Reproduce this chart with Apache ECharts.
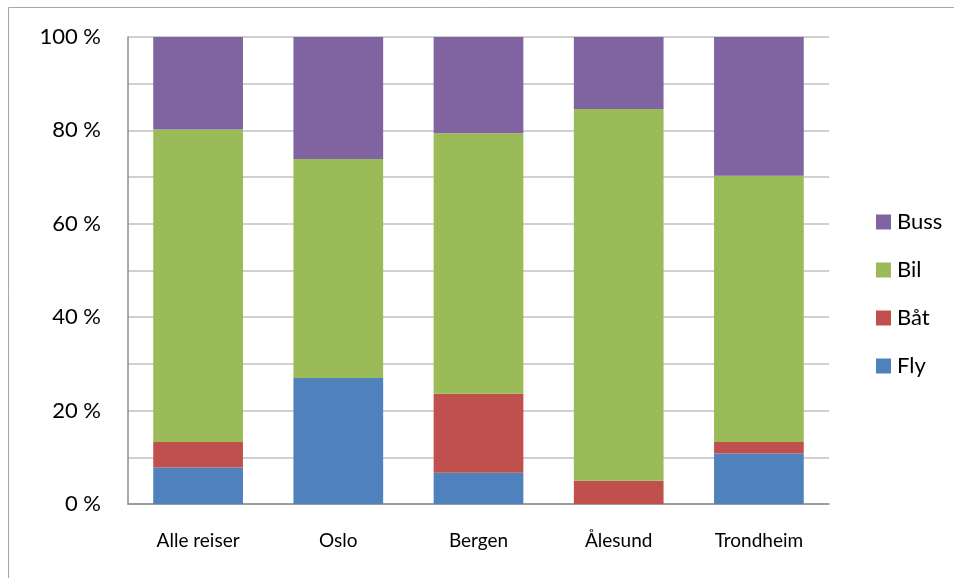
<!DOCTYPE html>
<html>
<head>
<meta charset="utf-8">
<script src="https://cdn.jsdelivr.net/npm/echarts@6/dist/echarts.min.js"></script>
<style>
  html, body { margin: 0; padding: 0; background: #fff; }
  #chart { width: 954px; height: 578px; }
</style>
</head>
<body>
<div id="chart"></div>
<script>
// Reisemiddel per reisemål, andel i prosent
const categories = ['Alle reiser', 'Oslo', 'Bergen', 'Ålesund', 'Trondheim'];
const fly  = [7.8, 27.0, 6.7, 0.0, 10.8];
const baat = [5.5, 0.0, 16.9, 5.0, 2.5];
const bil  = [66.9, 46.9, 55.8, 79.6, 57.0];
const buss = [19.8, 26.1, 20.6, 15.4, 29.7];
const yTicks = [0, 20, 40, 60, 80, 100];

const fontFamily = 'Lato, "Open Sans", sans-serif';

const chart = echarts.init(document.getElementById('chart'));

function barSeries(name, data, color) {
  return {
    name: name,
    type: 'bar',
    stack: 'total',
    data: data,
    barWidth: '64%',
    itemStyle: { color: color },
    emphasis: { disabled: true }
  };
}

chart.setOption({
  animation: false,
  graphic: [{
    type: 'rect',
    shape: { x: 8.5, y: 7.5, width: 1000, height: 1000 },
    style: { fill: 'none', stroke: '#a6a6a6', lineWidth: 1 },
    silent: true
  }],
  grid: { left: 128, top: 37, width: 701, height: 467 },
  legend: {
    orient: 'vertical',
    left: 871,
    top: 206,
    itemWidth: 15,
    itemHeight: 15,
    itemGap: 26,
    icon: 'rect',
    textStyle: { fontFamily: fontFamily, fontSize: 22, color: '#000', padding: [0, 0, 0, 1] },
    data: ['Buss', 'Bil', 'Båt', 'Fly'],
    selectedMode: false
  },
  xAxis: {
    type: 'category',
    data: categories,
    axisLine: { lineStyle: { color: '#8c8c8c', width: 1.5 } },
    axisTick: { show: false },
    axisLabel: { fontFamily: fontFamily, fontSize: 19, color: '#000', margin: 27 }
  },
  yAxis: {
    type: 'value',
    min: 0,
    max: 100,
    interval: 10,
    axisLine: { show: true, lineStyle: { color: '#8c8c8c', width: 1.5 } },
    axisTick: { show: false },
    splitLine: { lineStyle: { color: '#c0c0c0', width: 1.5 } },
    axisLabel: {
      fontFamily: fontFamily,
      fontSize: 22,
      color: '#000',
      margin: 27,
      formatter: function (v) { return yTicks.indexOf(v) >= 0 ? v + ' %' : ''; }
    }
  },
  series: [
    barSeries('Fly', fly, '#4f81bd'),
    barSeries('Båt', baat, '#c0504d'),
    barSeries('Bil', bil, '#9bbb59'),
    barSeries('Buss', buss, '#8064a2')
  ]
});
</script>
</body>
</html>
